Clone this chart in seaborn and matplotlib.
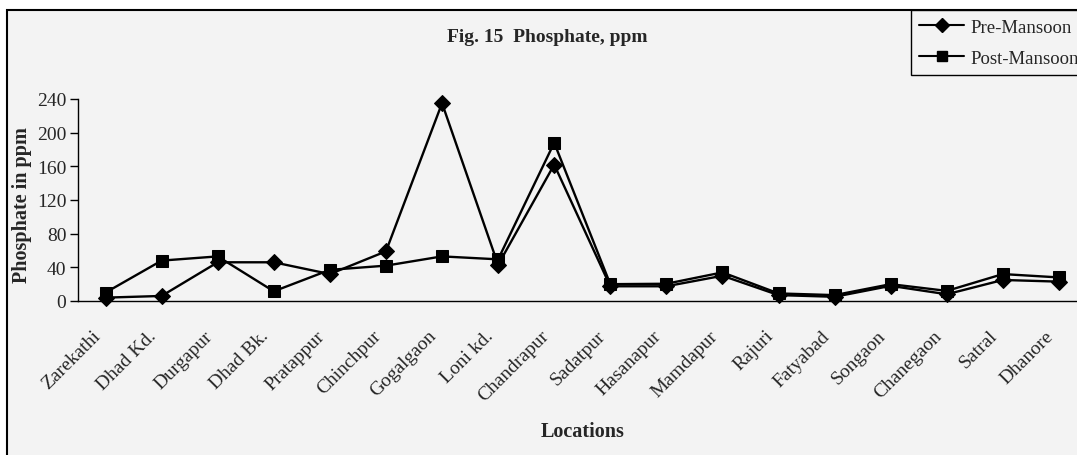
import matplotlib
matplotlib.use("Agg")
import matplotlib.pyplot as plt
from matplotlib.patches import Rectangle
import seaborn as sns
import pandas as pd
import numpy as np

locations = ["Zarekathi", "Dhad Kd.", "Durgapur", "Dhad Bk.", "Pratappur", "Chinchpur",
             "Gogalgaon", "Loni kd.", "Chandrapur", "Sadatpur", "Hasanapur", "Mamdapur",
             "Rajuri", "Fatyabad", "Songaon", "Chanegaon", "Satral", "Dhanore"]
pre_mansoon = [4, 6, 46, 46, 32, 59, 235, 43, 162, 17.5, 17.5, 30, 7, 5, 18, 8, 25, 23]
post_mansoon = [10, 48, 53, 11.5, 37, 42, 53, 49.5, 188, 20, 20.5, 34, 9, 7, 20, 12, 32, 28]
y_ticks = [0, 40, 80, 120, 160, 200, 240]

sns.set_style("white")
plt.rcParams['font.family'] = ['Liberation Serif', 'DejaVu Serif']

n = len(locations)
df = pd.DataFrame({
    "pos": list(range(n)) * 2,
    "value": pre_mansoon + post_mansoon,
    "series": ["Pre-Mansoon"] * n + ["Post-Mansoon"] * n,
})

bg = "#f3f3f3"
W, H = 1077, 456
fig = plt.figure(figsize=(W / 100, H / 100), dpi=100)
fig.patch.set_facecolor("white")
fig.patches.append(Rectangle((7 / W, -0.05), 1.1, 1 - 11 / H + 0.05,
                             transform=fig.transFigure, facecolor=bg,
                             edgecolor="black", linewidth=1.5, zorder=-10))

ax = fig.add_axes([77.5 / W, 1 - 302 / H, (1087 - 77.5) / W, (302 - 100) / H])
ax.set_facecolor(bg)
ax.patch.set_alpha(0)

sns.lineplot(data=df, x="pos", y="value", hue="series", style="series",
             markers={"Pre-Mansoon": "D", "Post-Mansoon": "s"}, dashes=False,
             palette={"Pre-Mansoon": "black", "Post-Mansoon": "black"},
             markersize=8, linewidth=1.7, sort=False, ax=ax, legend=False,
             markeredgecolor="black", clip_on=False)

ax.set_xlim(-0.5, n - 0.5)
ax.set_ylim(0, 240)
ax.set_yticks(y_ticks)
ax.set_yticklabels([str(t) for t in y_ticks], fontsize=14)
# label anchors sit slightly left of each category centre, as in the reference
ax.set_xticks(np.arange(n) - 0.14)
ax.set_xticklabels(locations, rotation=45, ha="right", va="center",
                   rotation_mode="anchor", fontsize=14)
ax.set_xticks(np.arange(n + 1) - 0.5, minor=True)
ax.tick_params(axis="x", which="major", length=0, pad=23)
ax.tick_params(axis="x", which="minor", length=5, width=1, direction="out", color="black")
ax.tick_params(axis="y", length=6, width=1, direction="out", color="black", pad=2, left=True)

for s in ["top", "right"]:
    ax.spines[s].set_visible(False)
for s in ["left", "bottom"]:
    ax.spines[s].set_color("black")
    ax.spines[s].set_linewidth(1)

ax.set_xlabel("")
ax.set_ylabel("")
fig.text(583 / W, 1 - 432 / H, "Locations", fontsize=14.5, fontweight="bold",
         ha="center", va="center")
fig.text(22 / W, 1 - 205 / H, "Phosphate in ppm", fontsize=14.5, fontweight="bold",
         ha="center", va="center", rotation=90)

fig.text(547 / W, 1 - 37 / H, "Fig. 15  Phosphate, ppm", fontsize=14,
         fontweight="bold", ha="center", va="center")

handles = [
    plt.Line2D([], [], color="black", marker="D", markersize=7, linewidth=1.5),
    plt.Line2D([], [], color="black", marker="s", markersize=7, linewidth=1.5),
]
leg = fig.legend(handles, ["Pre-Mansoon", "Post-Mansoon"], loc="upper left",
                 bbox_to_anchor=(911 / W, 1 - 11 / H), fancybox=False,
                 edgecolor="black", facecolor=bg, framealpha=1, fontsize=13.5,
                 handlelength=2.4, handletextpad=0.3, borderaxespad=0,
                 labelspacing=0.76, borderpad=0.45)
leg.get_frame().set_linewidth(1)

fig.savefig("out.png", dpi=100)
